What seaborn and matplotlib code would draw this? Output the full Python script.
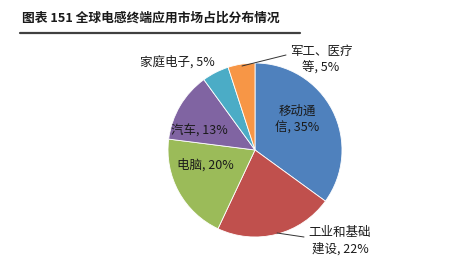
import matplotlib
matplotlib.use("Agg")
import matplotlib.pyplot as plt
from matplotlib.lines import Line2D
import seaborn as sns

sns.set_theme(style="white")
plt.rcParams['font.family'] = ['Noto Sans CJK SC', 'DejaVu Sans']

# Share of inductor end-use markets
segments = ["移动通信", "工业和基础建设", "电脑", "汽车", "家庭电子", "军工、医疗等"]
shares = [35, 22, 20, 13, 5, 5]
label_texts = ["移动通\n信, 35%", "工业和基础\n建设, 22%", "电脑, 20%",
               "汽车, 13%", "家庭电子, 5%", "军工、医疗\n等, 5%"]
colors = ["#4F81BD", "#C0504D", "#9BBB59", "#8064A2", "#4BACC6", "#F79646"]
title = "图表 151 全球电感终端应用市场占比分布情况"

W, H, DPI = 468, 276, 100
fig = plt.figure(figsize=(W / DPI, H / DPI), dpi=DPI)
fig.patch.set_facecolor("white")

# one axes over the whole figure; unit radius = 87 px, centre at (255, 150) px
cx, cy, r = 255, 150, 87
ax = fig.add_axes([0, 0, 1, 1])
ax.pie(shares, colors=colors, startangle=90, counterclock=False,
       wedgeprops=dict(edgecolor="white", linewidth=0.6))
ax.set_aspect("auto")
ax.set_xlim(-cx / r, (W - cx) / r)
ax.set_ylim((cy - H) / r, cy / r)
ax.axis("off")

def px(x, y):
    return (x - cx) / r, (cy - y) / r

fs = 9
label_pos = [(297, 120), (340, 241), (205, 165), (199, 131), (177, 62), (321, 60)]
for txt, (x, y) in zip(label_texts, label_pos):
    ax.text(*px(x, y), txt, ha="center", va="center", fontsize=fs,
            color="#1a1a1a", linespacing=1.35)

# leader lines for the outside labels
for (x0, y0), (x1, y1) in [((286, 55), (242, 66)), ((304, 237), (277, 233))]:
    a, b = px(x0, y0), px(x1, y1)
    ax.plot([a[0], b[0]], [a[1], b[1]], color="#333333", lw=0.7)

# heading with rule underneath
fig.text(22 / W, 1 - 18 / H, title, fontsize=9.2, fontweight="bold",
         ha="left", va="center", color="#1a1a1a")
fig.add_artist(Line2D([20 / W, 300 / W], [1 - 33 / H, 1 - 33 / H],
                      color="#404040", lw=1.6, transform=fig.transFigure))

fig.savefig("out.png", dpi=DPI, facecolor="white")
